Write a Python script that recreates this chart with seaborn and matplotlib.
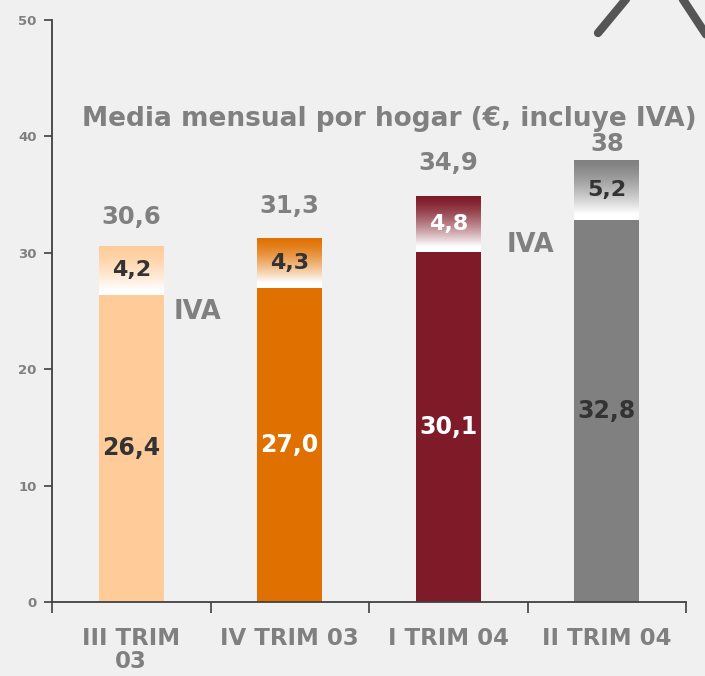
import numpy as np
import pandas as pd
import matplotlib
matplotlib.use("Agg")
import matplotlib.pyplot as plt
import seaborn as sns
from matplotlib.colors import to_rgb
from matplotlib.lines import Line2D

# ---- data ----
categories = ["III TRIM\n03", "IV TRIM 03", "I TRIM 04", "II TRIM 04"]
base_values = [26.4, 27.0, 30.1, 32.8]
iva_values = [4.2, 4.3, 4.8, 5.2]
total_labels = ["30,6", "31,3", "34,9", "38"]
base_labels = ["26,4", "27,0", "30,1", "32,8"]
iva_labels = ["4,2", "4,3", "4,8", "5,2"]
y_ticks = [0, 10, 20, 30, 40, 50]

colors = ["#FFCC99", "#E07000", "#7F1A28", "#808080"]
base_text_colors = ["#333333", "white", "white", "#333333"]
iva_text_colors = ["#333333", "#333333", "white", "#333333"]
total_offsets_pt = [12, 14, 15, 3]
BG = "#F0F0F0"
GRAY = "#808080"

sns.set_style("white")
plt.rcParams["font.family"] = ["DejaVu Sans"]

fig = plt.figure(figsize=(7.05, 6.76), dpi=100, facecolor=BG)
ax = fig.add_axes([52/705, 74/676, (686-52)/705, (602-20)/676])
ax.set_facecolor(BG)

df = pd.DataFrame({"cat": categories, "base": base_values})
sns.barplot(data=df, x="cat", y="base", hue="cat", palette=colors,
            saturation=1, width=0.41, legend=False, ax=ax, linewidth=0)

base_patches = list(ax.patches)
xs = [p.get_x() + p.get_width() / 2 for p in base_patches]
w = base_patches[0].get_width()

# IVA stacked segments with vertical gradient (colour at top -> white at bottom)
iva_bars = ax.bar(xs, iva_values, bottom=base_values, width=w,
                  facecolor="none", edgecolor="none", linewidth=0)
n = 200
for p, col in zip(iva_bars, colors):
    c = np.array(to_rgb(col))
    t = np.linspace(0, 1, n)  # 0 = top
    f = (np.clip(t / 0.9, 0, 1) ** 1.4)[:, None]
    rgb = c * (1 - f) + np.ones(3) * f
    img = rgb[:, None, :]
    x0, y0 = p.get_x(), p.get_y()
    im = ax.imshow(img, extent=[x0, x0 + p.get_width(), y0, y0 + p.get_height()],
                   aspect="auto", origin="upper", zorder=2, interpolation="bilinear")
    im.set_clip_path(p)

ax.set_xlim(-0.5, 3.5)
ax.set_ylim(0, 50)

# labels
for i, x in enumerate(xs):
    b = base_values[i]
    v = iva_values[i]
    ax.text(x, b / 2, base_labels[i], ha="center", va="center", fontsize=17,
            fontweight="bold", color=base_text_colors[i], zorder=5)
    ax.text(x, b + v / 2, iva_labels[i], ha="center", va="center", fontsize=16,
            fontweight="bold", color=iva_text_colors[i], zorder=5)
    ax.annotate(total_labels[i], (x, b + v), xytext=(0, total_offsets_pt[i]),
                textcoords="offset points", ha="center", va="bottom", fontsize=17.5,
                fontweight="bold", color=GRAY, zorder=5)

fig.text(197/705, 1 - 312/676, "IVA", ha="center", va="center", fontsize=18.5,
         fontweight="bold", color=GRAY)
fig.text(530/705, 1 - 245/676, "IVA", ha="center", va="center", fontsize=18.5,
         fontweight="bold", color=GRAY)

fig.text(82/705, 1 - 119/676, "Media mensual por hogar (€, incluye IVA)",
         ha="left", va="center", fontsize=19, fontweight="bold", color=GRAY)

# axes styling
for s in ["top", "right"]:
    ax.spines[s].set_visible(False)
for s in ["left", "bottom"]:
    ax.spines[s].set_color("#404040")
    ax.spines[s].set_linewidth(1.3)

ax.set_yticks(y_ticks)
ax.set_yticklabels([str(t) for t in y_ticks], fontsize=9.5, fontweight="bold", color=GRAY)
ax.tick_params(axis="y", direction="out", length=6, width=1.2, color="#404040", pad=5, left=True)

ax.set_xticks(range(len(categories)))
ax.set_xticklabels(categories, fontsize=16.5, fontweight="bold", color=GRAY, linespacing=1.0)
ax.tick_params(axis="x", which="major", length=0, pad=18)
ax.set_xticks([-0.5, 0.5, 1.5, 2.5, 3.5], minor=True)
ax.tick_params(axis="x", which="minor", direction="out", length=8, width=1.2, color="#404040", bottom=True)
ax.set_xlabel("")
ax.set_ylabel("")

# decorative strokes at top right
fig.add_artist(Line2D([598/705, 627/705], [1 - 33/676, 1 + 2/676], transform=fig.transFigure,
                      color="#555555", lw=6, solid_capstyle="round"))
fig.add_artist(Line2D([682/705, 707/705], [1 + 2/676, 1 - 36/676], transform=fig.transFigure,
                      color="#555555", lw=6, solid_capstyle="round"))

fig.savefig("out.png", dpi=100, facecolor=BG)
